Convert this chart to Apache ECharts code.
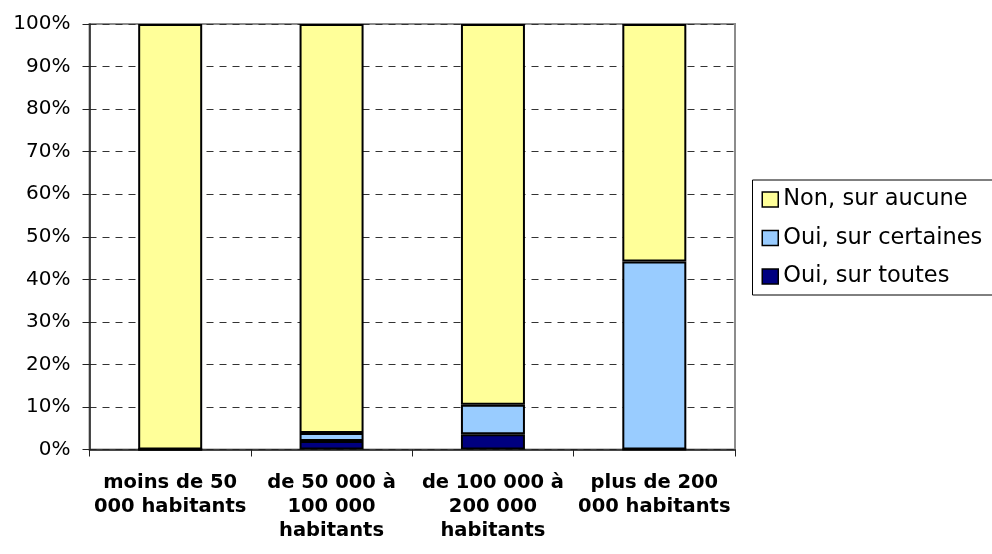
<!DOCTYPE html>
<html>
<head>
<meta charset="utf-8">
<script src="https://cdn.jsdelivr.net/npm/echarts@6/dist/echarts.min.js"></script>
<style>
  html, body { margin: 0; padding: 0; background: #fff; }
  #main { width: 992px; height: 554px; }
</style>
</head>
<body>
<div id="main"></div>
<script>
// catégories (taille de commune)
var categories = [
    'moins de 50\n000 habitants',
    'de 50 000 à\n100 000\nhabitants',
    'de 100 000 à\n200 000\nhabitants',
    'plus de 200\n000 habitants'
];
// parts en %
var ouiToutes = [0, 2.0, 3.6, 0];
var ouiCertaines = [0, 1.9, 6.9, 44.2];
var nonAucune = [100, 96.1, 89.5, 55.8];

var legendNames = ['Non, sur aucune', 'Oui, sur certaines', 'Oui, sur toutes'];

var myChart = echarts.init(document.getElementById('main'));

function barSerie(name, data, color) {
    return {
        name: name,
        type: 'bar',
        stack: 'total',
        barWidth: 64,
        data: data,
        itemStyle: {
            color: color,
            borderColor: '#000',
            borderWidth: 2
        },
        emphasis: { disabled: true }
    };
}

var option = {
    animation: false,
    textStyle: { fontFamily: 'DejaVu Sans, sans-serif' },
    grid: {
        left: 89.5,
        right: 257,
        top: 24,
        bottom: 104.5,
        show: true,
        borderColor: '#8c8c8c',
        borderWidth: 2
    },
    legend: {
        data: legendNames,
        orient: 'vertical',
        left: 752.5,
        top: 180,
        padding: [7.5, 14, 6.5, 9],
        itemGap: 14.5,
        itemWidth: 16,
        itemHeight: 15,
        borderColor: '#000',
        borderWidth: 1,
        icon: 'rect',
        itemStyle: { borderColor: '#000', borderWidth: 1.5 },
        textStyle: {
            fontSize: 22.5,
            lineHeight: 24,
            color: '#000',
            padding: [0, 0, 0, 0]
        }
    },
    xAxis: {
        type: 'category',
        data: categories,
        axisLine: { lineStyle: { color: '#222', width: 1.5 } },
        axisTick: { show: true, length: 7, alignWithLabel: false, lineStyle: { color: '#222' } },
        axisLabel: {
            interval: 0,
            margin: 21,
            fontSize: 19.5,
            fontWeight: 'bold',
            lineHeight: 24,
            color: '#000'
        }
    },
    yAxis: {
        type: 'value',
        min: 0,
        max: 100,
        interval: 10,
        axisLine: { show: true, lineStyle: { color: '#222', width: 1.5 } },
        axisTick: { show: true, length: 7, lineStyle: { color: '#222' } },
        axisLabel: {
            margin: 19,
            fontSize: 20,
            color: '#000',
            formatter: '{value}%'
        },
        splitLine: {
            show: true,
            lineStyle: { color: '#333', type: [7, 6], width: 1 }
        }
    },
    series: [
        barSerie('Oui, sur toutes', ouiToutes, '#000080'),
        barSerie('Oui, sur certaines', ouiCertaines, '#99CCFF'),
        barSerie('Non, sur aucune', nonAucune, '#FFFF99')
    ]
};

myChart.setOption(option);
</script>
</body>
</html>
